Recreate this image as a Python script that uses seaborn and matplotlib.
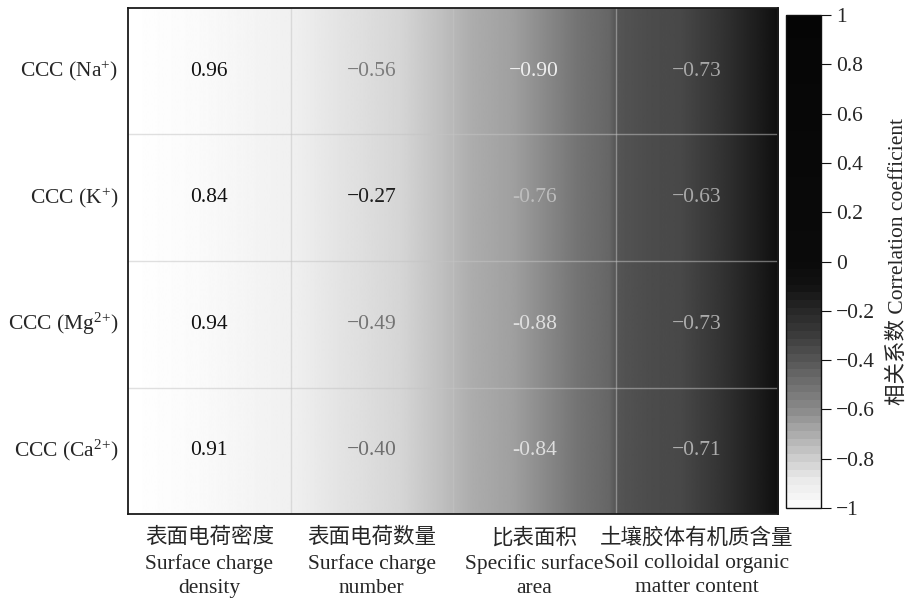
import numpy as np
import pandas as pd
import matplotlib
matplotlib.use("Agg")
import matplotlib.pyplot as plt
from matplotlib.colors import LinearSegmentedColormap
import seaborn as sns

# Row / column labels
ions = ["CCC (Na$^{+}$)", "CCC (K$^{+}$)", "CCC (Mg$^{2{+}}$)", "CCC (Ca$^{2{+}}$)"]
properties = [
    "表面电荷密度\nSurface charge\ndensity",
    "表面电荷数量\nSurface charge\nnumber",
    "比表面积\nSpecific surface\narea",
    "土壤胶体有机质含量\nSoil colloidal organic\nmatter content",
]

# Correlation coefficients, one list per soil property (rows follow `ions`)
surface_charge_density = [0.96, 0.84, 0.94, 0.91]
surface_charge_number = [-0.56, -0.27, -0.49, -0.40]
specific_surface_area = [-0.90, -0.76, -0.88, -0.84]
organic_matter_content = [-0.73, -0.63, -0.73, -0.71]

cbar_ticks = [1, 0.8, 0.6, 0.4, 0.2, 0, -0.2, -0.4, -0.6, -0.8, -1]

df = pd.DataFrame(
    np.column_stack([surface_charge_density, surface_charge_number,
                     specific_surface_area, organic_matter_content]),
    index=ions, columns=properties,
)

# Annotation text colours and dash style per cell
text_colors = [
    ["#111111", "#7c7c7c", "#eeeeee", "#a8a8a8"],
    ["#111111", "#1e1e1e", "#bdbdbd", "#a8a8a8"],
    ["#111111", "#747474", "#dedede", "#ababab"],
    ["#111111", "#6e6e6e", "#dedede", "#adadad"],
]
hyphen_cells = {(1, 2), (2, 2), (3, 2)}

FS = 15.5

sns.set_theme(style="white")
plt.rcParams["font.family"] = ["Liberation Serif", "Noto Sans CJK SC"]
plt.rcParams["mathtext.fontset"] = "custom"
plt.rcParams["mathtext.rm"] = "Liberation Serif"
plt.rcParams["mathtext.default"] = "regular"

# White-to-black scale: grey ramp over negative values, near-black above zero
cmap = LinearSegmentedColormap.from_list(
    "corr_gray",
    [(0.00, (0.98, 0.98, 0.98)),
     (0.05, (0.92, 0.92, 0.92)),
     (0.10, (0.79, 0.79, 0.79)),
     (0.15, (0.66, 0.66, 0.66)),
     (0.20, (0.53, 0.53, 0.53)),
     (0.25, (0.43, 0.43, 0.43)),
     (0.30, (0.33, 0.33, 0.33)),
     (0.35, (0.23, 0.23, 0.23)),
     (0.40, (0.15, 0.15, 0.15)),
     (0.45, (0.07, 0.07, 0.07)),
     (0.50, (0.04, 0.04, 0.04)),
     (1.00, (0.02, 0.02, 0.02))],
    N=64,
)

fig = plt.figure(figsize=(9.1, 6.0), dpi=100)
ax = fig.add_axes([0.1407, 0.1433, 0.7143, 0.8434])
cax = fig.add_axes([0.8637, 0.1533, 0.0385, 0.8217])

sns.heatmap(df, ax=ax, cbar_ax=cax, cmap=cmap, vmin=-1, vmax=1,
            annot=False, cbar=True)
mesh = ax.collections[0]
cbar = mesh.colorbar
mesh.set_visible(False)

# Horizontal light-to-dark shading behind the grid
px = np.linspace(0, 1, 800)
shade_x = [0.0, 0.11, 0.25, 0.31, 0.42, 0.48, 0.53, 0.59, 0.64, 0.69, 0.74,
           0.75, 0.80, 0.85, 0.91, 0.97, 1.0]
shade_v = [255, 250, 240, 230, 213, 192, 172, 160, 138, 116, 102,
           85, 76, 72, 52, 28, 15]
grad = np.interp(px, shade_x, shade_v)
ax.imshow(grad[None, :], cmap="gray", vmin=0, vmax=255, extent=(0, 4, 4, 0),
          aspect="auto", interpolation="bilinear", zorder=0)
ax.set_xlim(0, 4)
ax.set_ylim(4, 0)

# Cell separators
for k in range(1, 4):
    ax.axhline(k, color="#c4c4c4", alpha=0.52, lw=1.0, zorder=1)
    ax.axvline(k, color="#c4c4c4", alpha=0.52, lw=1.0, zorder=1)

# Value labels
for i in range(df.shape[0]):
    for j in range(df.shape[1]):
        v = df.iat[i, j]
        s = f"{v:.2f}"
        if v < 0:
            s = ("-" if (i, j) in hyphen_cells else "\u2212") + s[1:]
        ax.text(j + 0.5, i + 0.5, s, ha="center", va="center",
                fontsize=FS, color=text_colors[i][j], zorder=3)

for sp in ax.spines.values():
    sp.set_visible(True)
    sp.set_color("#1a1a1a")
    sp.set_linewidth(1.3)

ax.set_xticklabels(properties, rotation=0, fontsize=FS, linespacing=1.38,
                   ha="center", va="top")
ax.set_yticklabels(ions, rotation=0, fontsize=FS)
ax.tick_params(axis="both", length=0)
ax.tick_params(axis="x", pad=10)
ax.tick_params(axis="y", pad=7)
ax.set_xlabel("")
ax.set_ylabel("")

# Colour bar
cbar.set_ticks(cbar_ticks)
cbar.set_ticklabels([f"{t:g}".replace("-", "\u2212") for t in cbar_ticks])
cbar.outline.set_visible(True)
cbar.outline.set_edgecolor("#111111")
cbar.outline.set_linewidth(1.0)
cax.tick_params(axis="y", length=7, width=0.8, color="#111111",
                labelsize=FS, pad=4, right=True, left=False)
cbar.set_label("相关系数 Correlation coefficient", fontsize=FS, labelpad=9)

fig.savefig("out.png", dpi=100)
